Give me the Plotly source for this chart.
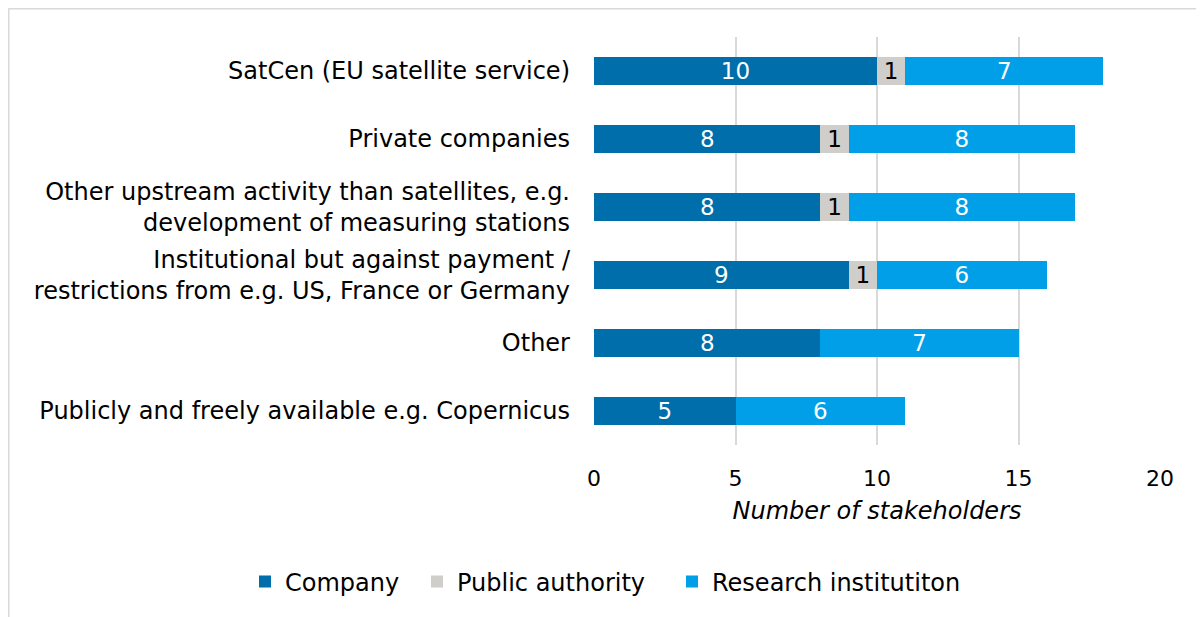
import plotly.graph_objects as go

categories = [
    "SatCen (EU satellite service)",
    "Private companies",
    "Other upstream activity than satellites, e.g.<br>development of measuring stations",
    "Institutional but against payment /<br>restrictions from e.g. US, France or Germany",
    "Other",
    "Publicly and freely available e.g. Copernicus",
]
company = [10, 8, 8, 9, 8, 5]
public_authority = [1, 1, 1, 1, None, None]
research = [7, 8, 8, 6, 7, 6]

FONT = "DejaVu Sans"
NUM = 23

common = dict(orientation="h", textposition="inside", insidetextanchor="middle",
              textangle=0, constraintext="none", showlegend=True)

fig = go.Figure()
fig.add_trace(go.Bar(
    y=categories, x=company, name="Company", legend="legend",
    marker=dict(color="#006EAA", line=dict(width=0)),
    text=company, textfont=dict(color="white", size=NUM, family=FONT), **common,
))
fig.add_trace(go.Bar(
    y=categories, x=public_authority, name="Public authority", legend="legend2",
    marker=dict(color="#D0CECA", line=dict(width=0)),
    text=public_authority, textfont=dict(color="black", size=NUM, family=FONT), **common,
))
fig.add_trace(go.Bar(
    y=categories, x=research, name="Research institutiton", legend="legend3",
    marker=dict(color="#009FE8", line=dict(width=0)),
    text=research, textfont=dict(color="white", size=NUM, family=FONT), **common,
))

# page is offset by 8px (body margin); positions below compensate
L, T, R, B = 586, 29, 52, 180
PW = 1204 - L - R
PH = 617 - T - B

def px_x(p):
    return (p - L) / PW

def px_y(p):
    return 1 - (p - T) / PH

def leg(xpix):
    return dict(
        orientation="h", xref="container", yref="container",
        x=xpix / 1204, xanchor="left", y=1 - 574 / 617, yanchor="middle",
        font=dict(size=24, family=FONT), itemwidth=30, bgcolor="rgba(0,0,0,0)",
    )

fig.update_layout(
    barmode="stack",
    bargap=0.59,
    width=1204, height=617,
    showlegend=True,
    margin=dict(l=L, r=R, t=T, b=B, autoexpand=False),
    paper_bgcolor="white", plot_bgcolor="white",
    font=dict(family=FONT, size=24, color="black"),
    legend=leg(237),
    legend2=leg(409),
    legend3=leg(664),
    xaxis=dict(
        range=[0, 20], dtick=5, showgrid=True, gridcolor="#D9D9D9", gridwidth=2,
        zeroline=False, showline=False, ticks="",
        tickfont=dict(size=22, family=FONT), ticklabelstandoff=18,
        title=dict(text="<i>Number of stakeholders</i>", font=dict(size=24, family=FONT), standoff=12),
    ),
    yaxis=dict(
        autorange="reversed", showgrid=False, zeroline=False, showline=False,
        ticks="", tickfont=dict(size=24, family=FONT), ticklabelstandoff=23,
    ),
    shapes=[
        dict(type="line", xref="paper", yref="paper", x0=px_x(0.5), x1=px_x(1300), y0=px_y(0.5), y1=px_y(0.5),
             line=dict(color="#D9D9D9", width=2)),
        dict(type="line", xref="paper", yref="paper", x0=px_x(0.5), x1=px_x(0.5), y0=px_y(0.5), y1=px_y(700),
             line=dict(color="#D9D9D9", width=2)),
    ],
)

fig.write_html("out.html")
